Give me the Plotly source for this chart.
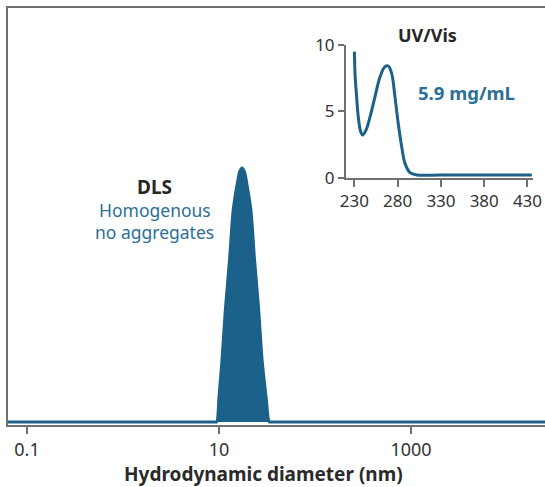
import plotly.graph_objects as go

# DLS size distribution (hydrodynamic diameter nm, normalized intensity)
dls_diameter = [0.05, 1, 5, 8.6, 9.0, 9.46, 10.0, 10.72, 11.69, 12.88, 14.06, 15.52, 16.41, 17.38, 18.41, 19.45, 21.48, 23.44, 25.82, 28.18, 30.9, 33.42, 35.0, 37.0, 100, 1000, 50000]
dls_intensity = [0, 0, 0, 0, 0, 0, 0.1, 0.24, 0.45, 0.64, 0.835, 0.94, 0.985, 1.0, 0.985, 0.94, 0.835, 0.64, 0.45, 0.24, 0.1, 0, 0, 0, 0, 0, 0]

# UV/Vis spectrum (wavelength nm, absorbance)
uv_wavelength = [230, 230.6, 232.5, 234.4, 237.2, 239.5, 243.3, 248, 253.7, 259.5, 265.3, 269.1, 273, 276.8, 280.6, 284.6, 288.4, 294.2, 302, 330, 380, 435]
uv_absorbance = [9.5, 7.87, 6.1, 4.6, 3.48, 3.23, 3.6, 4.6, 6.1, 7.6, 8.37, 8.42, 7.87, 6.1, 4.1, 2.35, 1.1, 0.4, 0.23, 0.22, 0.22, 0.22]

main_ticks = [0.1, 10, 1000]
main_tick_text = ["0.1", "10", "1000"]
uv_x_ticks = [230, 280, 330, 380, 430]
uv_y_ticks = [0, 5, 10]

BLUE = "#1b618a"
TEXT_BLUE = "#2b6f98"
GRAY = "#707070"
DARK = "#262626"
FONT = "Noto Sans"

fig = go.Figure()
fig.add_trace(go.Scatter(
    x=dls_diameter, y=dls_intensity, mode="lines",
    line=dict(color=BLUE, width=3, shape="spline", smoothing=0.8),
    fill="tozeroy", fillcolor=BLUE,
    xaxis="x", yaxis="y", hoverinfo="skip"))
fig.add_trace(go.Scatter(
    x=uv_wavelength, y=uv_absorbance, mode="lines",
    line=dict(color=BLUE, width=3, shape="spline", smoothing=1.0),
    xaxis="x2", yaxis="y2", hoverinfo="skip"))

fig.update_layout(
    width=545, height=487,
    margin=dict(l=8, r=0, t=8, b=62, autoexpand=False),
    paper_bgcolor="white", plot_bgcolor="white",
    showlegend=False,
    font=dict(family=FONT, color=DARK),
    xaxis=dict(type="log", range=[-1.198, 4.396], showgrid=False, zeroline=False,
               automargin=False,
               showline=True, linecolor=GRAY, linewidth=2, mirror=True,
               ticks="outside", ticklen=7, tickcolor=GRAY, tickwidth=1.5,
               tickvals=main_ticks, ticktext=main_tick_text,
               tickfont=dict(size=18, color="#333333", family=FONT)),
    yaxis=dict(range=[-0.012, 1.63], showgrid=False, zeroline=False,
               automargin=False,
               showline=True, linecolor=GRAY, linewidth=2,
               showticklabels=False, ticks=""),
    xaxis2=dict(domain=[0.6294, 0.9777], anchor="y2", range=[220.2, 436.4],
                automargin=False,
                showgrid=False, zeroline=False, showline=True, linecolor=GRAY, linewidth=2,
                ticks="outside", ticklen=7, tickcolor=GRAY, tickwidth=1.5,
                tickvals=uv_x_ticks, tickfont=dict(size=17, color="#333333", family=FONT)),
    yaxis2=dict(domain=[0.5923, 0.9113], anchor="x2", range=[0, 10],
                automargin=False,
                showgrid=False, zeroline=False, showline=True, linecolor=GRAY, linewidth=2,
                ticks="outside", ticklen=6, tickcolor=GRAY, tickwidth=1.5,
                tickvals=uv_y_ticks, tickfont=dict(size=17, color="#333333", family=FONT)),
)

def ann(text, x, y, size, color, bold=False):
    fig.add_annotation(text=f"<b>{text}</b>" if bold else text, x=x, y=y,
                       xref="paper", yref="paper", showarrow=False,
                       xanchor="center", yanchor="middle",
                       font=dict(size=size, color=color, family=FONT))

ann("DLS", 0.2737, 0.5707, 19, DARK, bold=True)
ann("Homogenous", 0.2737, 0.515, 17.5, TEXT_BLUE)
ann("no aggregates", 0.2737, 0.4622, 17.5, TEXT_BLUE)
ann("UV/Vis", 0.7803, 0.9353, 18, DARK, bold=True)
ann("5.9 mg/mL", 0.8547, 0.7962, 18.5, TEXT_BLUE, bold=True)
ann("Hydrodynamic diameter (nm)", 0.4767, -0.117, 19, "#2a2a2a", bold=True)

fig.write_html("out.html",
               config={"displayModeBar": False, "responsive": False},
               post_script="document.body.style.margin='0';document.body.style.overflow='hidden';")
